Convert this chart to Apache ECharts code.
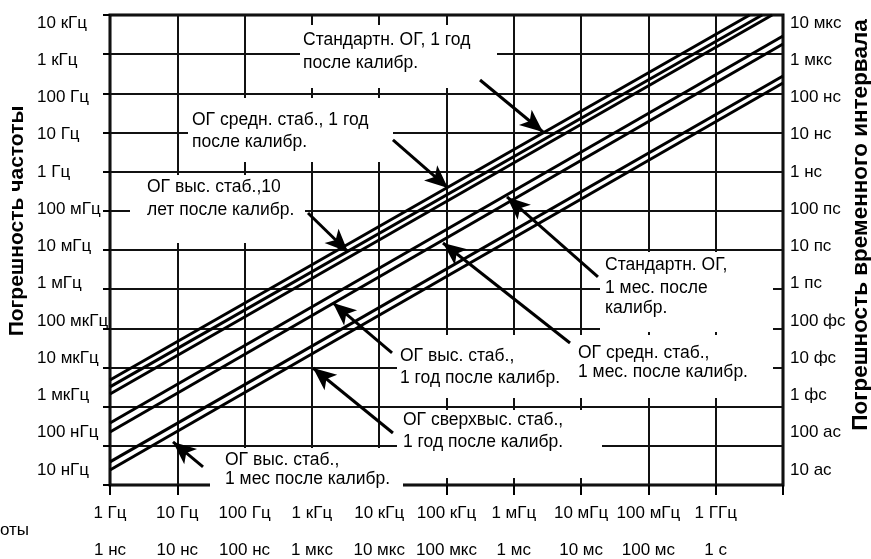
<!DOCTYPE html>
<html><head><meta charset="utf-8">
<script src="https://cdn.jsdelivr.net/npm/echarts@6/dist/echarts.min.js"></script>
<style>html,body{margin:0;padding:0;background:#fff}#c{width:871px;height:559px}</style>
</head><body><div id="c"></div>
<script>
// ---- tick labels ----
const freqTickLabels = ['1 Гц','10 Гц','100 Гц','1 кГц','10 кГц','100 кГц','1 мГц','10 мГц','100 мГц','1 ГГц',''];
const timeTickLabels = ['1 нс','10 нс','100 нс','1 мкс','10 мкс','100 мкс','1 мс','10 мс','100 мс','1 с',''];
const freqErrLabels = ['10 нГц','100 нГц','1 мкГц','10 мкГц','100 мкГц','1 мГц','10 мГц','100 мГц','1 Гц','10 Гц','100 Гц','1 кГц','10 кГц'];
const timeErrLabels = ['10 ас','100 ас','1 фс','10 фс','100 фс','1 пс','10 пс','100 пс','1 нс','10 нс','100 нс','1 мкс','10 мкс'];

// ---- accuracy lines: [frequency Hz, frequency error Hz] end points ----
const topLine1 = [[1, 4.8e-6], [3.2e9, 1e4]];
const topLine2 = [[1, 3.2e-6], [4.9e9, 1e4]];
const topLine3 = [[1, 2.1e-6], [6.9e9, 1e4]];
const midLine1 = [[1, 3.84e-7], [1e10, 2910]];
const midLine2 = [[1, 2.26e-7], [1e10, 1820]];
const lowLine1 = [[1, 3.89e-8], [1e10, 277]];
const lowLine2 = [[1, 2.42e-8], [1e10, 184]];

// ---- annotation texts ----
const noteStd1yr   = ['Стандартн. ОГ, 1 год', 'после калибр.'];
const noteMid1yr   = ['ОГ средн. стаб., 1 год', 'после калибр.'];
const noteHigh10yr = ['ОГ выс. стаб.,10', 'лет после калибр.'];
const noteStd1mo   = ['Стандартн. ОГ,', '1 мес. после', 'калибр.'];
const noteMid1mo   = ['ОГ средн. стаб.,', '1 мес. после калибр.'];
const noteHigh1yr  = ['ОГ выс. стаб.,', '1 год после калибр.'];
const noteUltra1yr = ['ОГ сверхвыс. стаб.,', '1 год после калибр.'];
const noteHigh1mo  = ['ОГ выс. стаб.,', '1 мес после калибр.'];

// ---- arrows: [tail, tip] in data units ----
const arrowStd1yr   = [[3.15e5, 219], [2.72e6, 10.3]];
const arrowMid1yr   = [[1.6e4, 6.44], [1.05e5, 0.383]];
const arrowHigh10yr = [[875, 0.0881], [3440, 0.00889]];
const arrowStd1mo   = [[1.78e7, 0.00205], [7.93e5, 0.226]];
const arrowMid1mo   = [[6.84e6, 4.23e-5], [8.87e4, 0.0151]];
const arrowHigh1yr  = [[1.55e4, 2.35e-5], [2.06e3, 4.44e-4]];
const arrowUltra1yr = [[1.6e4, 2.13e-7], [1.04e3, 9.7e-6]];
const arrowHigh1mo  = [[24.1, 2.89e-8], [8.63, 1.26e-7]];

const FONT = '"Liberation Sans", Arial, sans-serif';
const lbl = (arr, offset) => v => { const i = Math.round(Math.log10(v)) + offset; return arr[i] !== undefined ? arr[i] : ''; };

const chart = echarts.init(document.getElementById('c'), null, {renderer: 'canvas'});

const lineSeries = (name, data) => ({
  name, type: 'line', xAxisIndex: 0, yAxisIndex: 0, data,
  symbol: 'none', showSymbol: false, silent: true, clip: true,
  lineStyle: {color: '#000', width: 3}, z: 3
});

const arrows = [arrowStd1yr, arrowMid1yr, arrowHigh10yr, arrowStd1mo, arrowMid1mo, arrowHigh1yr, arrowUltra1yr, arrowHigh1mo];

function textLines(lines, x, ys, size) {
  return lines.map((t, i) => ({
    type: 'text', x: x, y: ys[i], z: 5,
    style: {text: t, font: (size || 17.5) + 'px ' + FONT, fill: '#000', align: 'left', verticalAlign: 'middle'}
  }));
}
function box(x, y, w, h) {
  return {type: 'rect', shape: {x: x, y: y, width: w, height: h}, z: 1, style: {fill: '#fff'}};
}

const axisFont = {fontSize: 17, fontFamily: FONT, color: '#000'};

const option = {
  backgroundColor: '#fff',
  animation: false,
  grid: [
    {left: 110, top: 15, width: 673, height: 470, show: true, borderColor: '#000', borderWidth: 3, backgroundColor: 'transparent', outerBoundsMode: 'none', containLabel: false},
    {left: 110, top: 23, width: 673, height: 447, outerBoundsMode: 'none', containLabel: false}
  ],
  xAxis: [
    {gridIndex: 0, type: 'log', logBase: 10, min: 1, max: 1e10, interval: 1, position: 'bottom',
      axisLine: {show: false}, axisTick: {show: true, inside: false, length: 10, lineStyle: {color: '#000', width: 2}},
      minorTick: {show: false}, minorSplitLine: {show: false},
      axisLabel: Object.assign({margin: 20, showMinLabel: true, showMaxLabel: true, formatter: lbl(freqTickLabels, 0)}, axisFont),
      splitLine: {show: true, lineStyle: {color: '#111', width: 2}}},
    {gridIndex: 0, type: 'log', logBase: 10, min: 1, max: 1e10, interval: 1, position: 'bottom', offset: 37,
      axisLine: {show: false}, axisTick: {show: false}, splitLine: {show: false},
      axisLabel: Object.assign({margin: 20, showMinLabel: true, showMaxLabel: true, formatter: lbl(timeTickLabels, 0)}, axisFont)},
    {gridIndex: 1, type: 'log', logBase: 10, min: 1, max: 1e10, show: false}
  ],
  yAxis: [
    {gridIndex: 0, type: 'log', logBase: 10, min: 1e-8, max: 1e4, interval: 1, position: 'left',
      axisLine: {show: false}, axisTick: {show: true, inside: false, length: 7, lineStyle: {color: '#000', width: 2}},
      axisLabel: {show: false}, minorTick: {show: false},
      splitLine: {show: true, lineStyle: {color: '#111', width: 2}}},
    {gridIndex: 0, type: 'log', logBase: 10, min: 1e-8, max: 1e4, interval: 1, position: 'right',
      axisLine: {show: false}, axisTick: {show: false}, axisLabel: {show: false}, splitLine: {show: false}},
    {gridIndex: 1, type: 'log', logBase: 10, min: 1e-8, max: 1e4, interval: 1, position: 'left',
      axisLine: {show: false}, axisTick: {show: false}, splitLine: {show: false},
      axisLabel: Object.assign({margin: 73, align: 'left', showMinLabel: true, showMaxLabel: true, formatter: lbl(freqErrLabels, 8)}, axisFont)},
    {gridIndex: 1, type: 'log', logBase: 10, min: 1e-8, max: 1e4, interval: 1, position: 'right',
      axisLine: {show: false}, axisTick: {show: false}, splitLine: {show: false},
      axisLabel: Object.assign({margin: 7, align: 'left', showMinLabel: true, showMaxLabel: true, formatter: lbl(timeErrLabels, 8)}, axisFont)}
  ],
  series: [
    lineSeries('Стандартн. ОГ, 1 год', topLine1),
    lineSeries('ОГ средн. стаб., 1 год', topLine2),
    lineSeries('ОГ выс. стаб., 10 лет', topLine3),
    lineSeries('Стандартн. ОГ, 1 мес.', midLine1),
    lineSeries('ОГ средн. стаб., 1 мес. / ОГ выс. стаб., 1 год', midLine2),
    lineSeries('ОГ сверхвыс. стаб., 1 год', lowLine1),
    lineSeries('ОГ выс. стаб., 1 мес', lowLine2),
    {
      name: 'arrows', type: 'line', xAxisIndex: 0, yAxisIndex: 0, data: [], silent: true, z: 4,
      markLine: {
        silent: true, animation: false,
        symbol: ['none', 'arrow'], symbolSize: [15, 23],
        label: {show: false}, emphasis: {disabled: true},
        lineStyle: {color: '#000', width: 3, type: 'solid'},
        data: arrows.map(a => [{coord: a[0]}, {coord: a[1]}])
      }
    }
  ],
  graphic: [
    box(300, 25, 197, 63),
    box(188, 98, 205, 64),
    box(130, 175, 175, 68),
    box(600, 252, 173, 80),
    box(575, 335, 198, 63),
    box(397, 335, 178, 63),
    box(397, 410, 205, 68),
    box(210, 448, 193, 49),
    ...textLines(noteStd1yr, 303, [40, 63]),
    ...textLines(noteMid1yr, 192, [120, 142]),
    ...textLines(noteHigh10yr, 147, [187, 210]),
    ...textLines(noteStd1mo, 605, [265, 288, 308]),
    ...textLines(noteMid1mo, 578, [353, 372]),
    ...textLines(noteHigh1yr, 400, [356, 378]),
    ...textLines(noteUltra1yr, 403, [420, 442]),
    ...textLines(noteHigh1mo, 225, [460, 479]),
    {type: 'text', x: 17, y: 221, rotation: Math.PI / 2, z: 5,
      style: {text: 'Погрешность частоты', font: 'bold 21px ' + FONT, fill: '#000', align: 'center', verticalAlign: 'middle'}},
    {type: 'text', x: 861, y: 225, rotation: Math.PI / 2, z: 5,
      style: {text: 'Погрешность временного интервала', font: 'bold 22.5px ' + FONT, fill: '#000', align: 'center', verticalAlign: 'middle'}},
    {type: 'text', x: 0, y: 530, z: 5,
      style: {text: 'оты', font: '17px ' + FONT, fill: '#000', align: 'left', verticalAlign: 'middle'}}
  ]
};
chart.setOption(option);
</script>
</body></html>
